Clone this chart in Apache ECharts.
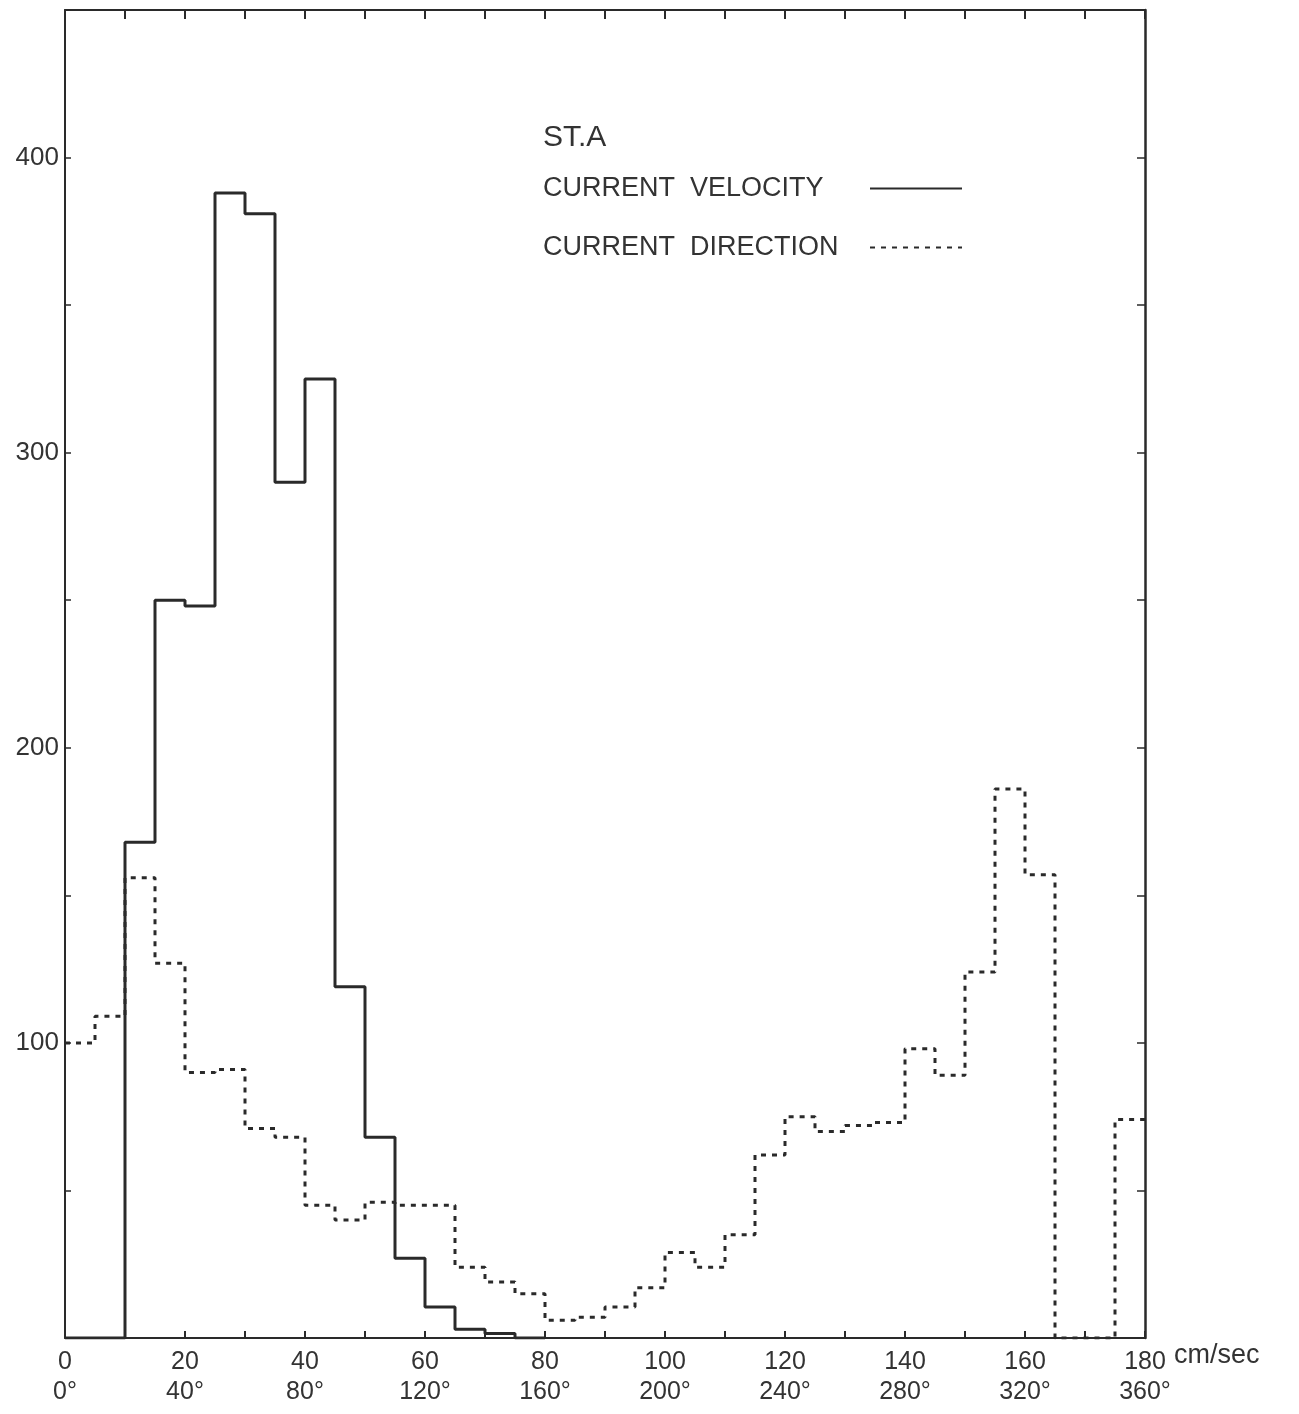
<!DOCTYPE html>
<html>
<head>
<meta charset="utf-8">
<script src="https://cdn.jsdelivr.net/npm/echarts@6/dist/echarts.min.js"></script>
<style>
  html, body { margin: 0; padding: 0; background: #fff; }
  #chart { width: 1299px; height: 1414px; }
</style>
</head>
<body>
<div id="chart"></div>
<script>
// bin width in cm/sec (each direction bin is 10 degrees)
const BIN = 5;

// current velocity counts, bins 0-5, 5-10, ... cm/sec
const velocity = [0, 0, 168, 250, 248, 388, 381, 290, 325, 119, 68, 27, 10.5, 3, 1.5, 0];

// current direction counts, bins 0-10, 10-20, ... degrees
const direction = [
  100, 109, 156, 127, 90, 91, 71, 68, 45, 40,
  46, 45, 45, 24, 19, 15, 6, 7, 10.5, 17,
  29, 24, 35, 62, 75, 70, 72, 73, 98, 89,
  124, 186, 157, 0, 0, 74
];

const speedTicks = [0, 20, 40, 60, 80, 100, 120, 140, 160, 180];
const degreeTicks = ['0°', '40°', '80°', '120°', '160°', '200°', '240°', '280°', '320°', '360°'];

function toSteps(values) {
  const pts = values.map((v, i) => [i * BIN, v]);
  pts.push([values.length * BIN, values[values.length - 1]]);
  return pts;
}

const FONT = 'Liberation Sans';
const INK = '#2a2a2a';

const chart = echarts.init(document.getElementById('chart'));

chart.setOption({
  backgroundColor: '#fff',
  animation: false,
  title: {
    text: 'ST.A',
    left: 538,
    top: 118,
    textStyle: { fontFamily: FONT, fontSize: 30, fontWeight: 'normal', color: '#333' }
  },
  legend: {
    orient: 'vertical',
    left: 538,
    top: 170,
    align: 'right',
    itemGap: 32,
    itemWidth: 92,
    itemHeight: 12,
    itemStyle: { opacity: 0 },
    formatter: name => '{n|' + name + '}',
    textStyle: {
      color: '#333',
      rich: { n: { fontFamily: FONT, fontSize: 27, color: '#333', width: 322, align: 'left' } }
    },
    data: ['CURRENT  VELOCITY', 'CURRENT  DIRECTION']
  },
  grid: { left: 65, right: 154, top: 10, bottom: 76 },
  xAxis: [
    {
      type: 'value',
      min: 0,
      max: 180,
      interval: 10,
      position: 'bottom',
      axisLine: { onZero: false, lineStyle: { color: INK, width: 2 } },
      axisTick: { inside: true, length: 7, lineStyle: { color: INK, width: 2 } },
      splitLine: { show: false },
      axisLabel: {
        margin: 10,
        formatter: v => {
          const i = speedTicks.indexOf(v);
          return i < 0 ? '' : '{a|' + v + '}\n{b|' + degreeTicks[i] + '}';
        },
        rich: {
          a: { fontFamily: FONT, fontSize: 25, color: '#333', lineHeight: 28 },
          b: { fontFamily: FONT, fontSize: 25, color: '#333', lineHeight: 32 }
        }
      }
    },
    {
      type: 'value',
      min: 0,
      max: 180,
      interval: 10,
      position: 'top',
      axisLine: { onZero: false, lineStyle: { color: INK, width: 2 } },
      axisTick: { inside: true, length: 9, lineStyle: { color: INK, width: 2 } },
      axisLabel: { show: false },
      splitLine: { show: false }
    }
  ],
  yAxis: [
    {
      type: 'value',
      min: 0,
      max: 450,
      interval: 50,
      position: 'left',
      axisLine: { show: true, onZero: false, lineStyle: { color: INK, width: 2 } },
      axisTick: { show: true, inside: true, length: 6, lineStyle: { color: INK, width: 1.5 } },
      splitLine: { show: false },
      axisLabel: {
        margin: 6,
        fontFamily: FONT,
        fontSize: 26,
        color: '#333',
        formatter: v => (v > 0 && v % 100 === 0 && v < 450 ? String(v) : '')
      }
    },
    {
      type: 'value',
      min: 0,
      max: 450,
      interval: 50,
      position: 'right',
      axisLine: { show: true, onZero: false, lineStyle: { color: INK, width: 2.5 } },
      axisTick: { show: true, inside: true, length: 8, lineStyle: { color: INK, width: 1.5 } },
      axisLabel: { show: false },
      splitLine: { show: false }
    }
  ],
  graphic: [
    {
      type: 'text',
      left: 1174,
      top: 1342,
      style: { text: 'cm/sec', fontFamily: FONT, fontSize: 27, fill: '#333' }
    }
  ],
  series: [
    {
      name: 'CURRENT  VELOCITY',
      type: 'line',
      step: 'end',
      showSymbol: false,
      symbol: 'none',
      lineStyle: { color: INK, width: 3 },
      itemStyle: { color: INK },
      data: toSteps(velocity)
    },
    {
      name: 'CURRENT  DIRECTION',
      type: 'line',
      step: 'end',
      showSymbol: false,
      symbol: 'none',
      lineStyle: { color: INK, width: 3, type: [5, 6] },
      itemStyle: { color: INK },
      data: toSteps(direction)
    }
  ]
});
</script>
</body>
</html>
